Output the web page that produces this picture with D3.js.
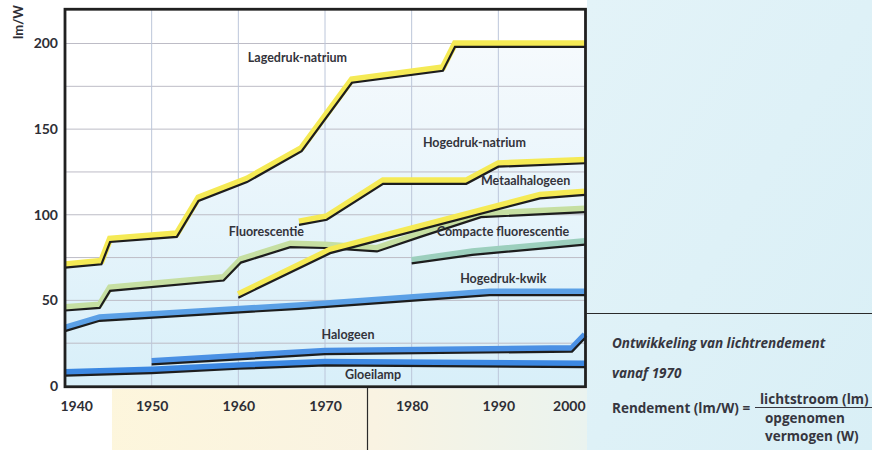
<!DOCTYPE html>
<html>
<head>
<meta charset="utf-8">
<script src="https://cdn.jsdelivr.net/npm/d3@7"></script>
<style>
    body { margin: 0; background: #fff; }
    svg { display: block; font-family: Lato, "Open Sans", sans-serif; }
</style>
</head>
<body>
<div id="vis"></div>
<script>
// Luminous efficacy (lm/W): [year, value]
let lagedrukNatrium = [[1940, 71], [1944.2, 73], [1945.2, 86], [1952.9, 89], [1955.4, 110], [1961, 121], [1967.3, 139], [1973.1, 179], [1983.6, 186], [1985, 200], [2000, 200]];
let hogedrukNatrium = [[1967, 96], [1970.2, 99], [1976.7, 120], [1986.3, 120], [1990, 130], [2000, 132]];
let metaalhalogeen = [[1960, 53.5], [1970.6, 79.5], [1994.8, 111.5], [2000, 113.5]];
let fluorescentie = [[1940, 46], [1944, 47.5], [1945.2, 57.5], [1958.3, 63.5], [1960.3, 74], [1966, 83], [1970, 82.5], [1976, 80.5], [1981, 89], [1988, 100.5], [2000, 103.5]];
let compacteFluorescentie = [[1980, 73.5], [1987, 78.5], [2000, 84.5]];
let hogedrukKwik = [[1940, 34], [1944, 40], [1967, 47], [1989, 55], [2000, 55]];
let halogeen = [[1950, 14.5], [1970, 20.5], [1998.5, 22], [2000, 30]];
let gloeilamp = [[1940, 8], [1950, 9.5], [1960, 12], [1970, 14], [2000, 13]];

let yearTicks = [1940, 1950, 1960, 1970, 1980, 1990, 2000];
let valueTicks = [0, 50, 100, 150, 200];
let gridValues = [25, 50, 75, 100, 125, 150, 175, 200];

// drawing order: lowest first so the upper curves lie on top
let series = [
    { name: 'Gloeilamp', data: gloeilamp, color: '#3c88e2' },
    { name: 'Halogeen', data: halogeen, color: '#4a90e4' },
    { name: 'Hogedruk-kwik', data: hogedrukKwik, color: '#5ba0e6' },
    { name: 'Compacte fluorescentie', data: compacteFluorescentie, color: '#9ccfbd' },
    { name: 'Fluorescentie', data: fluorescentie, color: '#c6dfa2' },
    { name: 'Metaalhalogeen', data: metaalhalogeen, color: '#f5ea55' },
    { name: 'Hogedruk-natrium', data: hogedrukNatrium, color: '#f5ea55' },
    { name: 'Lagedruk-natrium', data: lagedrukNatrium, color: '#f5ea55' }
];

// where each name is written, in chart units [year, value]
let labelSpots = [
    ['Lagedruk-natrium', 1961.1, 192],
    ['Hogedruk-natrium', 1981.3, 142],
    ['Metaalhalogeen', 1988, 120],
    ['Fluorescentie', 1958.9, 90],
    ['Compacte fluorescentie', 1982.9, 90],
    ['Hogedruk-kwik', 1985.6, 62.5],
    ['Halogeen', 1969.6, 30.2],
    ['Gloeilamp', 1972.3, 6.4]
];

let svg = d3.select('#vis')
    .append('svg')
    .attr('width', 872)
    .attr('height', 450);

let defs = svg.append('defs');

let plotFill = defs.append('linearGradient')
    .attr('id', 'plotFill')
    .attr('gradientUnits', 'userSpaceOnUse')
    .attr('x1', 0).attr('y1', 40).attr('x2', 0).attr('y2', 386);
plotFill.append('stop').attr('offset', 0).attr('stop-color', '#f6fafd');
plotFill.append('stop').attr('offset', 1).attr('stop-color', '#d8eff9');

let bottomFill = defs.append('linearGradient')
    .attr('id', 'bottomFill')
    .attr('gradientUnits', 'userSpaceOnUse')
    .attr('x1', 100).attr('y1', 0).attr('x2', 600).attr('y2', 0);
bottomFill.append('stop').attr('offset', 0).attr('stop-color', '#fdf6dc');
bottomFill.append('stop').attr('offset', 0.55).attr('stop-color', '#f9f3e2');
bottomFill.append('stop').attr('offset', 1).attr('stop-color', '#e9f3f0');

let rightFill = defs.append('linearGradient')
    .attr('id', 'rightFill')
    .attr('x1', 0).attr('y1', 0).attr('x2', 1).attr('y2', 1);
rightFill.append('stop').attr('offset', 0).attr('stop-color', '#e3f3f8');
rightFill.append('stop').attr('offset', 1).attr('stop-color', '#d9eff6');

// page background pieces
svg.append('rect').attr('x', 112).attr('y', 389).attr('width', 480).attr('height', 61).attr('fill', 'url(#bottomFill)');
svg.append('rect').attr('x', 587).attr('y', 0).attr('width', 285).attr('height', 450).attr('fill', 'url(#rightFill)');

let xScale = d3.scaleLinear().domain([1940, 2000]).range([65, 585]);
let yScale = d3.scaleLinear().domain([0, 220]).range([386, 9.25]);

let line = d3.line()
    .x(d => xScale(d[0]))
    .y(d => yScale(d[1]));

let area = d3.area()
    .x(d => xScale(d[0]))
    .y0(yScale(0))
    .y1(d => yScale(d[1]));

// plot background
svg.append('rect')
    .attr('x', 65).attr('y', 9.25)
    .attr('width', 520).attr('height', 377)
    .attr('fill', '#fff');
svg.append('path')
    .datum(lagedrukNatrium)
    .attr('d', area)
    .attr('fill', 'url(#plotFill)');

// grid
svg.append('g')
    .selectAll('line')
    .data(gridValues)
    .join('line')
    .attr('x1', 65).attr('x2', 585)
    .attr('y1', d => yScale(d)).attr('y2', d => yScale(d))
    .attr('stroke', '#bdbcc6')
    .attr('stroke-width', 1);

svg.append('g')
    .selectAll('line')
    .data(yearTicks.slice(1, -1))
    .join('line')
    .attr('x1', d => xScale(d)).attr('x2', d => xScale(d))
    .attr('y1', 9).attr('y2', 386)
    .attr('stroke', '#bcc6da')
    .attr('stroke-width', 1);

// curves: coloured band with a dark edge just below it
let curves = svg.append('g');
series.forEach(s => {
    curves.append('path')
        .datum(s.data)
        .attr('d', line)
        .attr('fill', 'none')
        .attr('stroke', s.color)
        .attr('stroke-width', 6.5)
        .attr('stroke-linejoin', 'miter');
    curves.append('path')
        .datum(s.data)
        .attr('d', line)
        .attr('transform', 'translate(0, 3.3)')
        .attr('fill', 'none')
        .attr('stroke', '#1d1d1d')
        .attr('stroke-width', 2.2)
        .attr('stroke-linejoin', 'miter');
});

// frame
svg.append('rect')
    .attr('x', 65).attr('y', 9.25)
    .attr('width', 520.5).attr('height', 377.5)
    .attr('fill', 'none')
    .attr('stroke', '#202020')
    .attr('stroke-width', 2.8);

// axes
let xAxis = d3.axisBottom(xScale)
    .tickValues(yearTicks)
    .tickFormat(d3.format('d'))
    .tickSize(0)
    .tickPadding(14);

let yAxis = d3.axisLeft(yScale)
    .tickValues(valueTicks)
    .tickSize(0)
    .tickPadding(7);

let xAxisG = svg.append('g')
    .attr('transform', 'translate(0, 387)')
    .call(xAxis);

let yAxisG = svg.append('g')
    .attr('transform', 'translate(65, 0)')
    .call(yAxis);

[xAxisG, yAxisG].forEach(g => {
    g.select('.domain').remove();
    g.selectAll('text')
        .attr('fill', '#2e2e35')
        .style('font-size', '14px')
        .style('font-weight', 'bold')
        .style('font-family', 'Lato, sans-serif');
});

xAxisG.selectAll('.tick text')
    .filter(d => d === 1940)
    .attr('text-anchor', 'start')
    .attr('dx', -5);
xAxisG.selectAll('.tick text')
    .filter(d => d === 2000)
    .attr('text-anchor', 'end');

svg.append('text')
    .attr('transform', 'translate(18, 22) rotate(-90)')
    .attr('text-anchor', 'middle')
    .attr('dy', '0.35em')
    .attr('fill', '#2e2e35')
    .style('font-size', '13px')
    .style('font-weight', 'bold')
    .text('lm/W');

// curve names
svg.append('g')
    .selectAll('text')
    .data(labelSpots)
    .join('text')
    .attr('x', d => xScale(d[1]))
    .attr('y', d => yScale(d[2]))
    .attr('dy', '0.35em')
    .attr('fill', '#33333b')
    .style('font-size', '12.5px')
    .style('font-weight', 'bold')
    .text(d => d[0]);

// side text block
svg.append('line')
    .attr('x1', 586).attr('x2', 872)
    .attr('y1', 313.5).attr('y2', 313.5)
    .attr('stroke', '#2a2a2a')
    .attr('stroke-width', 1.2);

svg.append('line')
    .attr('x1', 367.5).attr('x2', 367.5)
    .attr('y1', 388).attr('y2', 450)
    .attr('stroke', '#2a2a2a')
    .attr('stroke-width', 1.2);

let note = svg.append('g')
    .attr('fill', '#36363f')
    .style('font-family', '"Open Sans", sans-serif')
    .style('font-weight', 'bold')
    .style('font-size', '13.5px');

note.append('text')
    .attr('x', 612).attr('y', 343).attr('dy', '0.35em')
    .style('font-style', 'italic')
    .text('Ontwikkeling van lichtrendement');

note.append('text')
    .attr('x', 612).attr('y', 373).attr('dy', '0.35em')
    .style('font-style', 'italic')
    .text('vanaf 1970');

note.append('text')
    .attr('x', 612).attr('y', 408).attr('dy', '0.35em')
    .text('Rendement (lm/W) =');

note.append('text')
    .attr('x', 760).attr('y', 399).attr('dy', '0.35em')
    .text('lichtstroom (lm)');

note.append('line')
    .attr('x1', 755).attr('x2', 872)
    .attr('y1', 407.5).attr('y2', 407.5)
    .attr('stroke', '#36363f')
    .attr('stroke-width', 1.2);

note.append('text')
    .attr('x', 765).attr('y', 418).attr('dy', '0.35em')
    .text('opgenomen');

note.append('text')
    .attr('x', 765).attr('y', 436).attr('dy', '0.35em')
    .text('vermogen (W)');
</script>
</body>
</html>
